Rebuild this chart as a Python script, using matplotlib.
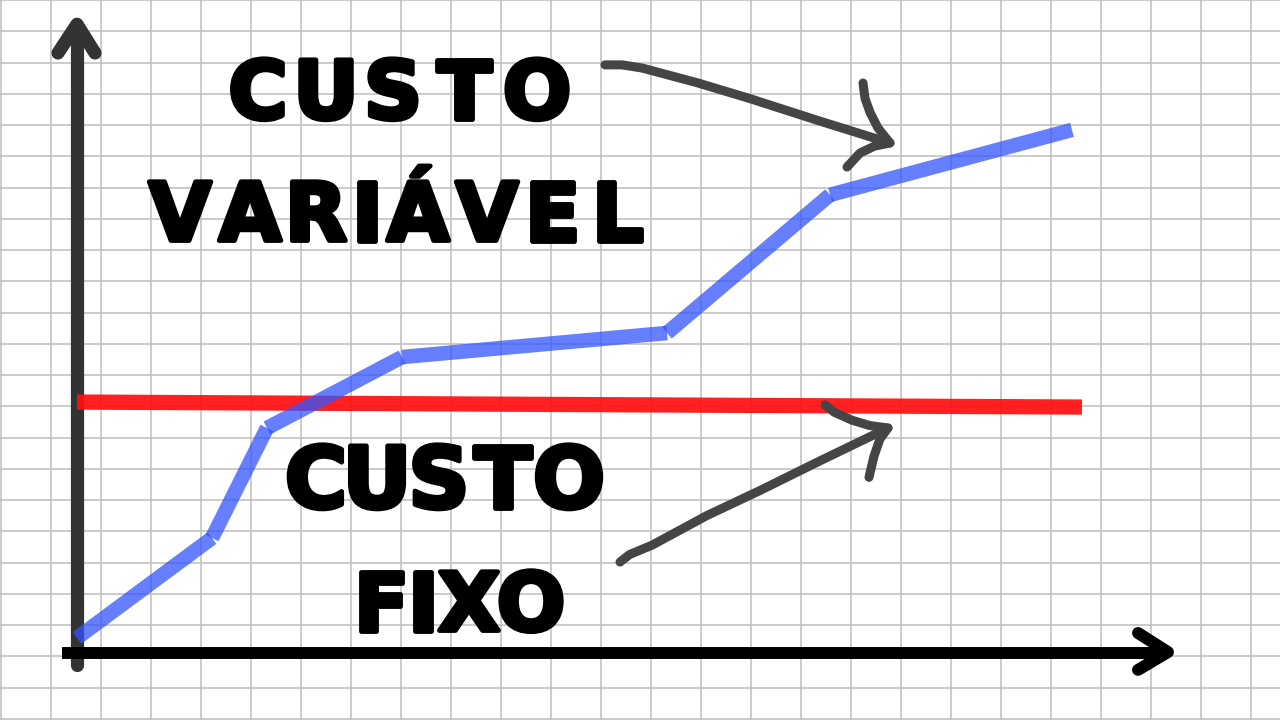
import numpy as np
import matplotlib
matplotlib.use("Agg")
import matplotlib.pyplot as plt
import matplotlib.patheffects as pe

# ---- data (grid-cell units, origin at the axes corner) ----
var_x = [0.0, 2.7, 3.8, 6.5, 11.8, 15.06, 19.9]
var_cost = [0.48, 3.68, 7.2, 9.47, 10.24, 14.66, 16.74]
fix_x = [0.0, 20.1]
fix_cost = [8.03, 7.87]

# labels: text and letter centres
label_var_1 = "CUSTO"
label_var_1_x = [3.62, 4.98, 6.32, 7.74, 9.2]
label_var_2 = "VARIÁVEL"
label_var_2_x = [2.06, 3.46, 4.78, 5.8, 6.82, 8.2, 9.5, 10.8]
label_fix_1 = "CUSTO"
label_fix_1_x = [4.78, 6.0, 7.24, 8.52, 9.84]
label_fix_2 = "FIXO"
label_fix_2_x = [6.08, 6.92, 7.84, 9.08]

# hand-drawn pointer arrows
arrow_top_shaft_x = [10.56, 10.9, 11.3, 12.4, 13.46, 14.8, 16.26]
arrow_top_shaft_y = [18.82, 18.82, 18.72, 18.25, 17.74, 17.05, 16.32]
arrow_top_head_x = [15.72, 15.76, 15.86, 16.02, 16.26, 15.95, 15.66, 15.40]
arrow_top_head_y = [18.24, 17.75, 17.30, 16.80, 16.32, 16.22, 16.00, 15.55]
arrow_bot_shaft_x = [10.86, 11.05, 11.5, 12.6, 13.66, 14.9, 16.22]
arrow_bot_shaft_y = [2.91, 3.15, 3.45, 4.40, 5.20, 6.18, 7.20]
arrow_bot_head_x = [14.96, 15.15, 15.50, 15.85, 16.22, 16.06, 15.94, 15.84]
arrow_bot_head_y = [7.94, 7.70, 7.45, 7.28, 7.20, 6.85, 6.30, 5.62]

fig = plt.figure(figsize=(12.8, 7.2), dpi=100)
ax = fig.add_axes([0, 0, 1, 1])
ax.set_xlim(-1.54, 24.06)
ax.set_ylim(-2.144, 20.896)
for s in ax.spines.values():
    s.set_visible(False)
ax.set_xticks(np.arange(-1.52, 24.1, 1.0))
ax.set_yticks(np.arange(20.896 - 23, 20.9, 1.0))
ax.tick_params(length=0, labelbottom=False, labelleft=False)
ax.grid(True, color="#bdbdbd", lw=1.1)
ax.set_axisbelow(True)

# axes drawn by hand
ax.plot([0, 0], [-0.38, 20.1], color="#333333", lw=9.5, solid_capstyle="round", zorder=2)
ax.plot([-0.38, 0, 0.36], [19.2, 20.12, 19.2], color="#333333", lw=9.5,
        solid_capstyle="round", solid_joinstyle="round", zorder=2)
ax.plot([-0.3, 21.8], [0, 0], color="black", lw=8.6, solid_capstyle="butt", zorder=3)
ax.plot([21.22, 21.82, 21.22], [0.64, 0.03, -0.54], color="black", lw=8.6,
        solid_capstyle="round", solid_joinstyle="round", zorder=3)

# fixed cost
ax.plot(fix_x, fix_cost, color="#ff1010", alpha=0.93, lw=11, solid_capstyle="butt", zorder=4)

# variable cost (separate segments so joins overlap)
for i in range(len(var_x) - 1):
    ax.plot(var_x[i:i + 2], var_cost[i:i + 2], color=(0.2, 0.33, 1.0), alpha=0.75,
            lw=10.5, solid_capstyle="butt", zorder=5)

# labels
def letters(text, xs, base, size):
    for ch, x in zip(text, xs):
        ax.text(x, base, ch, ha="center", va="baseline", fontsize=size,
                fontweight="bold", family="DejaVu Sans", color="black", zorder=6,
                path_effects=[pe.withStroke(linewidth=3.5, foreground="black",
                                            joinstyle="round")])

letters(label_var_1, label_var_1_x, 17.10, 58)
letters(label_var_2, label_var_2_x, 13.20, 58)
letters(label_fix_1, label_fix_1_x, 4.65, 61)
letters(label_fix_2, label_fix_2_x, 0.72, 58)

pen = dict(color="#454545", lw=6.5, solid_capstyle="round", solid_joinstyle="round", zorder=6)
ax.plot(arrow_top_shaft_x, arrow_top_shaft_y, **pen)
ax.plot(arrow_top_head_x, arrow_top_head_y, **pen)
ax.plot(arrow_bot_shaft_x, arrow_bot_shaft_y, **pen)
ax.plot(arrow_bot_head_x, arrow_bot_head_y, **pen)

fig.savefig("out.png", dpi=100)
